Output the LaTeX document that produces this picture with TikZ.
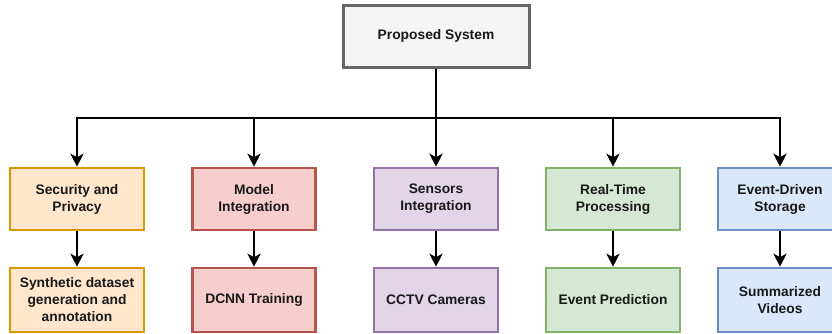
\documentclass[tikz,border=0pt]{standalone}
\usepackage{fontspec}
\setmainfont{Liberation Sans}
\usetikzlibrary{arrows.meta, shadows}

\definecolor{grayfill}{HTML}{F5F5F5}
\definecolor{grayline}{HTML}{666666}
\definecolor{orangefill}{HTML}{FFE6CC}
\definecolor{orangeline}{HTML}{D79B00}
\definecolor{redfill}{HTML}{F8CECC}
\definecolor{redline}{HTML}{B85450}
\definecolor{purplefill}{HTML}{E1D5E7}
\definecolor{purpleline}{HTML}{9673A6}
\definecolor{greenfill}{HTML}{D5E8D4}
\definecolor{greenline}{HTML}{82B366}
\definecolor{bluefill}{HTML}{DAE8FC}
\definecolor{blueline}{HTML}{6C8EBF}

\begin{document}
\begin{tikzpicture}[x=1pt,y=-1pt,
  box/.style={draw, line width=2.6pt, minimum height=62pt, inner sep=2pt,
    align=center, text=black!90, font=\bfseries\fontsize{13.8}{17}\selectfont},
  link/.style={line width=2.7pt, -{Stealth[length=13pt,width=13pt,inset=3.5pt]}}]
\path[use as bounding box] (0,0) rectangle (832,333);
\node[box, fill=grayfill, draw=grayline, line width=3pt, minimum width=186pt,
  drop shadow={shadow xshift=2pt, shadow yshift=-2pt, opacity=0.5, fill=black!60}]
  (sys) at (436,36) {Proposed System};
\node[box, fill=orangefill, draw=orangeline, minimum width=134pt] (sec) at (77,199) {Security and\\Privacy};
\node[box, fill=redfill, draw=redline, minimum width=123pt] (model) at (254,199) {Model\\Integration};
\node[box, fill=purplefill, draw=purpleline, minimum width=124pt] (sens) at (436,199) {Sensors\\Integration};
\node[box, fill=greenfill, draw=greenline, minimum width=134pt] (rt) at (613,199) {Real-Time\\Processing};
\node[box, fill=bluefill, draw=blueline, minimum width=124pt] (store) at (780,199) {Event-Driven\\Storage};
\node[box, fill=orangefill, draw=orangeline, minimum width=134pt, minimum height=64pt] (synth) at (77,300) {Synthetic dataset\\generation and\\annotation};
\node[box, fill=redfill, draw=redline, minimum width=123pt, minimum height=64pt] (dcnn) at (254,300) {DCNN Training};
\node[box, fill=purplefill, draw=purpleline, minimum width=124pt, minimum height=64pt] (cctv) at (436,300) {CCTV Cameras};
\node[box, fill=greenfill, draw=greenline, minimum width=134pt, minimum height=64pt] (pred) at (613,300) {Event Prediction};
\node[box, fill=bluefill, draw=blueline, minimum width=124pt, minimum height=64pt] (summ) at (780,300) {Summarized\\Videos};
\coordinate (bus) at (436,118);
\draw[link] (sys.south) -- (bus) -| (sec.north);
\draw[link] (sys.south) -- (bus) -| (model.north);
\draw[link] (sys.south) -- (sens.north);
\draw[link] (sys.south) -- (bus) -| (rt.north);
\draw[link] (sys.south) -- (bus) -| (store.north);
\draw[link] (sec) -- (synth);
\draw[link] (model) -- (dcnn);
\draw[link] (sens) -- (cctv);
\draw[link] (rt) -- (pred);
\draw[link] (store) -- (summ);
\end{tikzpicture}
\end{document}
